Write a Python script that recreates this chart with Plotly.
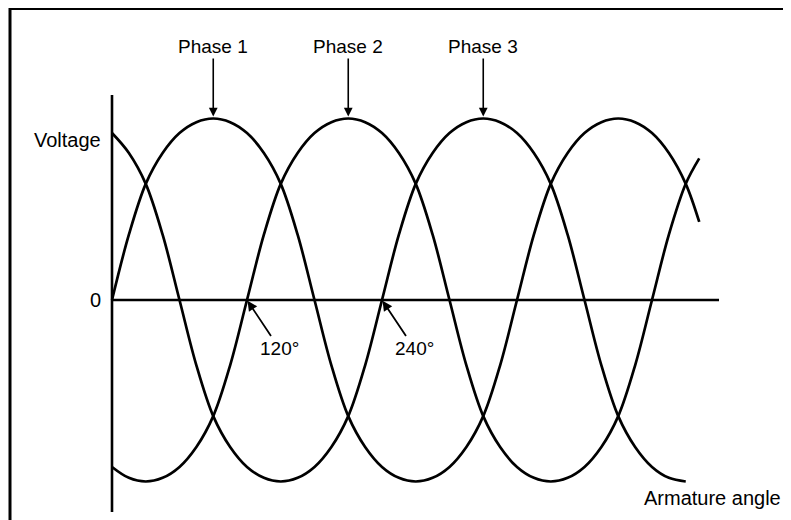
import plotly.graph_objects as go

# Armature angle samples (degrees)
angles = [0, 15, 30, 45, 60, 75, 90, 105, 120, 135, 150, 165, 180, 195, 210, 225,
          240, 255, 270, 285, 300, 315, 330, 345, 360, 375, 390, 405, 420, 435,
          450, 465, 480, 495, 510, 522]
angles3 = angles[:35]

# Voltage values (normalised to peak = 1)
phase1 = [0, .36, .64, .81, .92, .98, 1, .98, .92, .81, .64, .36, 0, -.36, -.64, -.81,
          -.92, -.98, -1, -.98, -.92, -.81, -.64, -.36, 0, .36, .64, .81, .92, .98,
          1, .98, .92, .81, .64, .43]
phase2 = [-.92, -.98, -1, -.98, -.92, -.81, -.64, -.36, 0, .36, .64, .81, .92, .98, 1, .98,
          .92, .81, .64, .36, 0, -.36, -.64, -.81, -.92, -.98, -1, -.98, -.92, -.81,
          -.64, -.36, 0, .36, .64, .78]
phase3 = [.92, .81, .64, .36, 0, -.36, -.64, -.81, -.92, -.98, -1, -.98, -.92, -.81, -.64, -.36,
          0, .36, .64, .81, .92, .98, 1, .98, .92, .81, .64, .36, 0, -.36,
          -.64, -.81, -.92, -.98, -1]

phase_labels = ["Phase 1", "Phase 2", "Phase 3"]
phase_peaks = [90, 210, 330]
angle_marks = [120, 240]
angle_labels = ["120°", "240°"]

# page body has an 8px margin; the figure is sized so it fills the window
PAGE_OFF = 8
W, H = 791 - PAGE_OFF, 520 - PAGE_OFF
X0PX, PXPERDEG = 112 - PAGE_OFF, 405 / 360
Y0PX, PXPERV = 300 - PAGE_OFF, 181.5


def px2x(px):
    """page pixel -> x data value"""
    return (px - PAGE_OFF - X0PX) / PXPERDEG


def px2y(py):
    """page pixel -> y data value"""
    return (Y0PX - (py - PAGE_OFF)) / PXPERV


fig = go.Figure()
line = dict(color="black", width=2.7, shape="spline", smoothing=1)
fig.add_trace(go.Scatter(x=angles, y=phase1, mode="lines", line=line, name="Phase 1"))
fig.add_trace(go.Scatter(x=angles, y=phase2, mode="lines", line=line, name="Phase 2"))
fig.add_trace(go.Scatter(x=angles3, y=phase3, mode="lines", line=line, name="Phase 3"))

font = dict(family="Liberation Sans, Arial, sans-serif", color="black")

annotations = []
for lab, pk in zip(phase_labels, phase_peaks):
    annotations.append(dict(x=pk, y=1.0, xref="x", yref="y", text=lab,
                            showarrow=True, ax=0, ay=-72, arrowhead=2, arrowsize=1.1,
                            arrowwidth=1.6, arrowcolor="black", standoff=2,
                            font=dict(size=19, **font)))
for lab, am in zip(angle_labels, angle_marks):
    annotations.append(dict(x=am, y=0, xref="x", yref="y", text=lab,
                            showarrow=True, ax=32, ay=48, arrowhead=2, arrowsize=1.1,
                            arrowwidth=1.8, arrowcolor="black", standoff=1,
                            font=dict(size=19, **font)))
annotations.append(dict(x=px2x(67), y=px2y(140), xref="x", yref="y", text="Voltage",
                        showarrow=False, font=dict(size=20, **font)))
annotations.append(dict(x=px2x(95), y=0, xref="x", yref="y", text="0",
                        showarrow=False, font=dict(size=20, **font)))
annotations.append(dict(x=px2x(712), y=px2y(498), xref="x", yref="y", text="Armature angle",
                        showarrow=False, font=dict(size=20, **font)))

shapes = [
    # axes
    dict(type="line", xref="x", yref="y", x0=0, x1=0, y0=px2y(95), y1=px2y(512),
         line=dict(color="black", width=2.6)),
    dict(type="line", xref="x", yref="y", x0=0, x1=px2x(719), y0=0, y1=0,
         line=dict(color="black", width=2.6)),
    # frame (top and left)
    dict(type="line", xref="paper", yref="paper", x0=1 / W, x1=1, y0=1, y1=1,
         line=dict(color="black", width=4)),
    dict(type="line", xref="paper", yref="paper", x0=2 / W, x1=2 / W, y0=1, y1=0,
         line=dict(color="black", width=3)),
]

fig.update_layout(
    width=W, height=H,
    margin=dict(l=0, r=0, t=0, b=0),
    paper_bgcolor="white", plot_bgcolor="white",
    showlegend=False,
    xaxis=dict(range=[px2x(PAGE_OFF), px2x(PAGE_OFF + W)], visible=False, fixedrange=True),
    yaxis=dict(range=[px2y(PAGE_OFF + H), px2y(PAGE_OFF)], visible=False, fixedrange=True),
    annotations=annotations,
    shapes=shapes,
)

fig.write_html("out.html")
